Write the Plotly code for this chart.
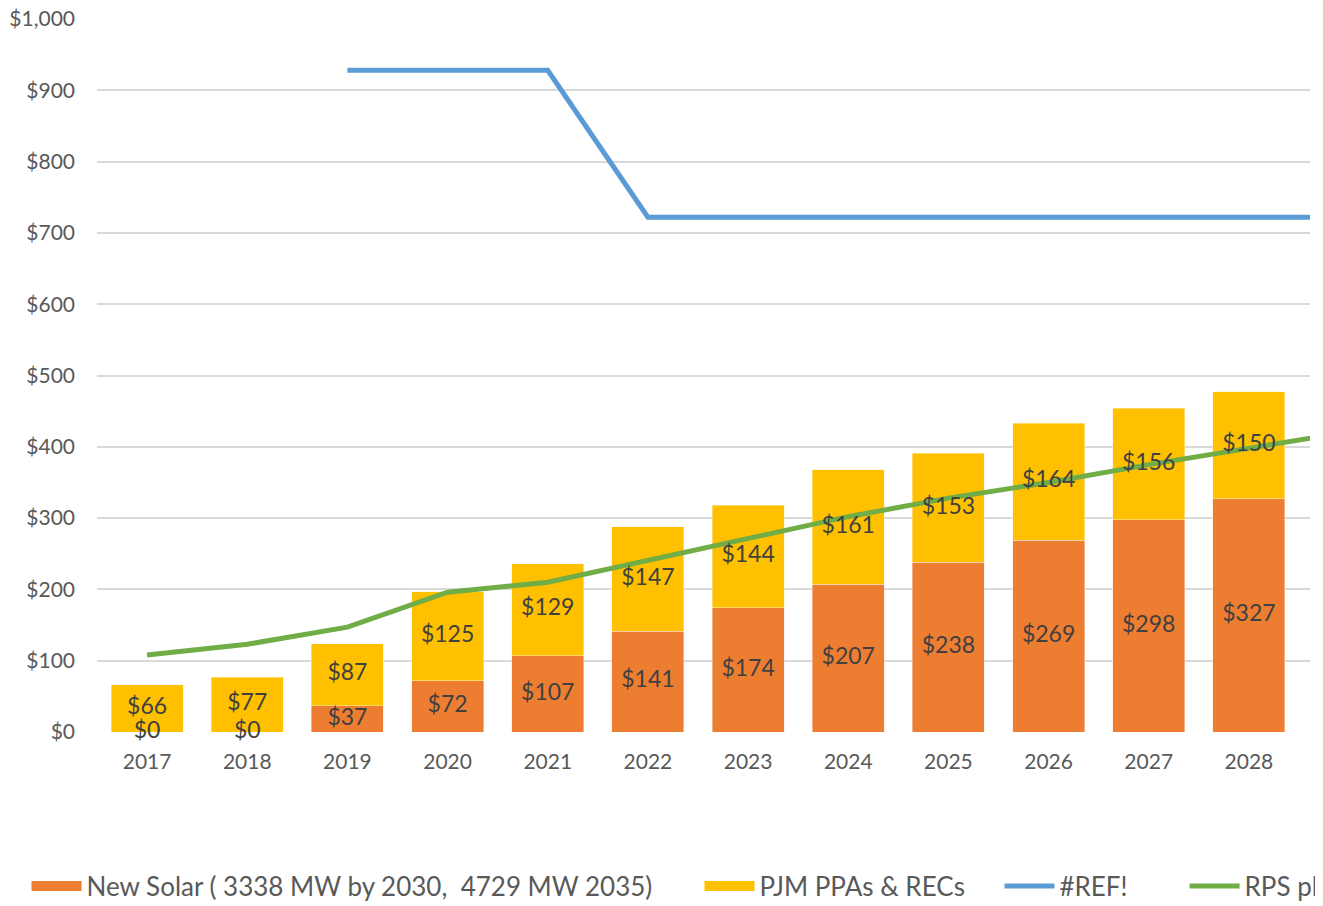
import plotly.graph_objects as go

years = [2017, 2018, 2019, 2020, 2021, 2022, 2023, 2024, 2025, 2026, 2027, 2028]
new_solar = [0, 0, 37, 72, 107, 141, 174, 207, 238, 269, 298, 327]
pjm_ppas = [66, 77, 87, 125, 129, 147, 144, 161, 153, 164, 156, 150]

line_years = [2017, 2018, 2019, 2020, 2021, 2022, 2023, 2024, 2025, 2026, 2027, 2028, 2029]
ref_line = [None, None, 928, 928, 928, 722, 722, 722, 722, 722, 722, 722, 722]
rps_line = [108, 123, 147, 196, 210, 241, 272, 302, 328, 350, 375, 399, 421]

tick_vals = [0, 100, 200, 300, 400, 500, 600, 700, 800, 900, 1000]
tick_text = ["$0", "$100", "$200", "$300", "$400", "$500", "$600", "$700", "$800", "$900", "$1,000"]

ORANGE = "#ED7D31"
YELLOW = "#FFC000"
BLUE = "#5B9BD5"
GREEN = "#70AD47"
FONT = "Lato, 'Open Sans', sans-serif"
NB = "\u00a0"
NAME_SOLAR = "New Solar ( 3338 MW by 2030," + NB * 2 + "4729 MW 2035)"
NAME_PJM = "PJM PPAs & RECs"
NAME_REF = "#REF!"
NAME_RPS = "RPS plu"

fig = go.Figure()
fig.add_trace(go.Bar(x=years, y=new_solar, name=NAME_SOLAR, showlegend=False,
                     marker=dict(color=ORANGE, line=dict(width=0.5, color="#FBE3D3")), width=0.72))
fig.add_trace(go.Bar(x=years, y=pjm_ppas, name=NAME_PJM, showlegend=False,
                     marker=dict(color=YELLOW, line=dict(width=0.5, color="#FFF2CC")), width=0.72))
# legend swatches (rectangular, as in the original)
fig.add_trace(go.Scatter(x=[None], y=[None], name=NAME_SOLAR, mode="lines", legend="legend",
                         line=dict(color=ORANGE, width=20)))
fig.add_trace(go.Scatter(x=[None], y=[None], name=NAME_PJM, mode="lines", legend="legend2",
                         line=dict(color=YELLOW, width=20)))
fig.add_trace(go.Scatter(x=line_years, y=ref_line, name=NAME_REF, mode="lines", legend="legend3",
                         line=dict(color=BLUE, width=5), connectgaps=False))
fig.add_trace(go.Scatter(x=line_years, y=rps_line, name=NAME_RPS, mode="lines", legend="legend4",
                         line=dict(color=GREEN, width=5)))

# data labels
orange_mid = [v / 2 for v in new_solar]
yellow_mid = [o + p / 2 for o, p in zip(new_solar, pjm_ppas)]
fig.add_trace(go.Scatter(x=years, y=orange_mid, mode="text", text=[f"${v}" for v in new_solar],
                         textfont=dict(family=FONT, size=23, color="#404040"), showlegend=False,
                         cliponaxis=False, hoverinfo="skip"))
fig.add_trace(go.Scatter(x=years, y=yellow_mid, mode="text", text=[f"${v}" for v in pjm_ppas],
                         textfont=dict(family=FONT, size=23, color="#404040"), showlegend=False,
                         cliponaxis=False, hoverinfo="skip"))

def leg(x):
    return dict(orientation="h", x=x, xanchor="left", y=-0.216, yanchor="middle",
                font=dict(family=FONT, size=26, color="#595959"),
                itemwidth=50, bgcolor="rgba(0,0,0,0)")

fig.update_layout(
    width=1315, height=898,
    barmode="stack",
    plot_bgcolor="white", paper_bgcolor="white",
    margin=dict(l=89, r=13, t=11, b=174, autoexpand=False),
    font=dict(family=FONT, color="#595959", size=21),
    showlegend=True,
    legend=leg(-0.0581),
    legend2=leg(0.4967),
    legend3=leg(0.7440),
    legend4=leg(0.8966),
)
fig.update_xaxes(range=[2016.5, 2028.61], tickmode="array", tickvals=years,
                 ticktext=[str(y) for y in years], showgrid=False, zeroline=False,
                 showline=False, ticks="", ticklabelstandoff=15, automargin=False,
                 tickfont=dict(size=21, color="#595959"))
fig.update_yaxes(range=[0, 1000], tickmode="array", tickvals=tick_vals, ticktext=tick_text,
                 showgrid=True, gridcolor="#D9D9D9", gridwidth=2, zeroline=False,
                 showline=False, ticks="", ticklabelstandoff=21, automargin=False,
                 ticklabeloverflow="allow",
                 tickfont=dict(size=21, color="#595959"))

fig.write_html("out.html")
